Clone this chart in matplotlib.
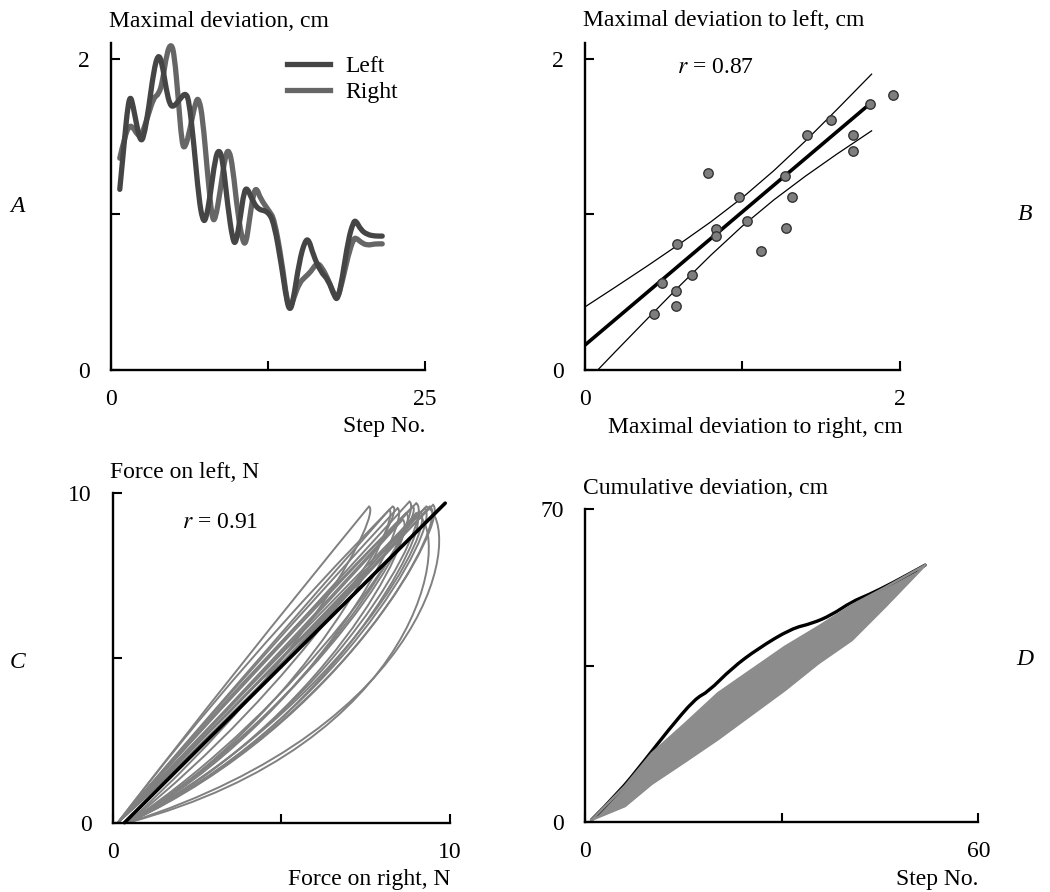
import matplotlib
matplotlib.use('Agg')
import matplotlib.pyplot as plt
from matplotlib.path import Path
from matplotlib.patches import PathPatch
from matplotlib.lines import Line2D

plt.rcParams['font.family'] = ['Liberation Serif', 'DejaVu Serif']
plt.rcParams['mathtext.fontset'] = 'stix'
FS = 17

# ---- A: maximal deviation per step
a_left_x = [0.7, 1.1, 1.35, 1.55, 1.75, 2.1, 2.35, 2.6, 3.0, 3.4, 3.75, 4.05, 4.4, 4.7, 5.0,
            5.5, 5.9, 6.2, 6.6, 7.0, 7.3, 7.55, 7.9, 8.3, 8.6, 8.9, 9.3, 9.7, 9.95, 10.3,
            10.6, 10.85, 11.2, 11.7, 12.5, 13.0, 13.6, 14.0, 14.25, 14.5, 15.0, 15.45, 15.75,
            16.1, 16.7, 17.3, 17.8, 18.05, 18.4, 18.9, 19.3, 19.5, 19.9, 20.4, 21.0, 21.6]
a_left_y = [1.16, 1.50, 1.70, 1.76, 1.70, 1.55, 1.47, 1.49, 1.68, 1.92, 2.03, 1.98, 1.80,
            1.70, 1.69, 1.74, 1.78, 1.74, 1.45, 1.10, 0.96, 0.96, 1.12, 1.36, 1.42, 1.35,
            1.05, 0.83, 0.81, 0.98, 1.15, 1.17, 1.10, 1.03, 1.02, 0.94, 0.66, 0.44, 0.38,
            0.44, 0.70, 0.83, 0.84, 0.74, 0.63, 0.58, 0.47, 0.45, 0.58, 0.84, 0.95, 0.96,
            0.90, 0.87, 0.86, 0.86]
a_right_x = [0.7, 1.1, 1.45, 1.75, 2.1, 2.4, 2.9, 3.4, 3.8, 4.1, 4.45, 4.8, 5.05, 5.35, 5.65,
             5.9, 6.3, 6.75, 7.0, 7.3, 7.7, 8.05, 8.3, 8.7, 9.1, 9.4, 9.7, 10.1, 10.5, 10.75,
             11.0, 11.35, 11.6, 11.9, 12.6, 13.0, 13.6, 14.0, 14.25, 14.55, 15.0, 15.5, 15.9,
             16.4, 16.8, 17.3, 17.8, 18.05, 18.4, 18.9, 19.3, 19.5, 19.9, 20.4, 21.0, 21.6]
a_right_y = [1.36, 1.50, 1.57, 1.56, 1.51, 1.50, 1.62, 1.75, 1.77, 1.85, 2.04, 2.10, 2.02,
             1.75, 1.45, 1.42, 1.55, 1.73, 1.745, 1.62, 1.25, 0.97, 0.96, 1.15, 1.38, 1.42,
             1.30, 1.00, 0.82, 0.81, 0.95, 1.14, 1.17, 1.10, 1.02, 0.97, 0.70, 0.45, 0.39,
             0.46, 0.56, 0.60, 0.63, 0.69, 0.66, 0.58, 0.48, 0.46, 0.56, 0.74, 0.84, 0.85,
             0.82, 0.80, 0.81, 0.81]

# ---- B: left vs right maximal deviation
b_right = [1.953, 1.810, 1.560, 1.407, 1.704, 1.704, 0.779, 1.270, 0.978, 1.316, 1.031,
           0.830, 0.830, 1.274, 1.115, 0.582, 0.682, 0.491, 0.578, 0.578, 0.440]
b_left = [1.765, 1.711, 1.608, 1.512, 1.512, 1.405, 1.262, 1.245, 1.112, 1.112, 0.958,
          0.903, 0.860, 0.909, 0.766, 0.806, 0.610, 0.556, 0.507, 0.411, 0.357]
b_fit_x = [0.0, 1.81]
b_fit_y = [0.16, 1.71]
b_band_x = [0.0, 0.2, 0.4, 0.6, 0.8, 1.0, 1.2, 1.4, 1.6, 1.82]
b_band_hi = [0.405, 0.537, 0.671, 0.809, 0.952, 1.107, 1.281, 1.471, 1.673, 1.900]
b_band_lo = [-0.085, 0.125, 0.333, 0.539, 0.738, 0.925, 1.093, 1.245, 1.387, 1.536]

# ---- C: force loops (up-branch control, peak, down-branch controls)
c_peak_x = [7.6, 8.2, 8.45, 8.8, 9.0, 9.25, 9.5, 8.6, 9.0, 8.9, 9.3, 9.0, 9.1, 8.7, 9.4, 8.3]
c_peak_y = [9.6, 9.5, 9.55, 9.75, 9.7, 9.55, 9.65, 9.2, 9.3, 9.6, 9.6, 9.4, 9.45, 9.4, 9.6, 9.6]
c_up_cx = [3.6, 3.9, 4.0, 4.3, 4.4, 4.7, 4.8, 4.5, 4.6, 4.2, 4.8, 4.7, 4.5, 4.1, 4.9, 3.8]
c_up_cy = [4.6, 4.5, 4.6, 4.7, 4.5, 4.6, 4.7, 4.5, 4.4, 4.8, 4.3, 4.2, 4.6, 4.5, 4.5, 4.9]
c_dn1_x = [7.95, 8.6, 8.9, 9.3, 9.6, 9.8, 10.0, 9.1, 9.5, 9.3, 10.4, 10.1, 9.7, 9.2, 10.0, 8.8]
c_dn1_y = [9.4, 9.3, 9.2, 9.4, 9.3, 9.0, 9.2, 8.8, 9.0, 9.3, 9.0, 8.8, 9.1, 9.1, 9.3, 9.5]
c_dn2_x = [6.0, 5.8, 6.0, 6.0, 6.6, 6.5, 6.8, 6.2, 6.4, 5.7, 9.6, 9.2, 6.9, 6.3, 7.2, 5.6]
c_dn2_y = [5.2, 3.3, 3.2, 3.4, 3.3, 3.0, 3.0, 3.0, 2.8, 3.6, 3.0, 2.4, 3.6, 3.8, 3.4, 4.2]
c_fit_x = [0.35, 9.86]
c_fit_y = [0.0, 9.7]

# ---- D: cumulative deviation
d_x = [1.0, 5.1, 9.15, 12.7, 16.8, 18.8, 22.4, 26.4, 31.5, 34.6, 37.6, 40.7, 43.2, 46.8, 51.9]
d_y = [0.4, 6.4, 13.8, 20.5, 27.6, 29.1, 34.4, 38.8, 43.3, 44.4, 46.3, 49.3, 50.8, 53.4, 57.5]
d_band_x = [1.0, 6.1, 10.2, 15.3, 20.3, 25.4, 30.5, 35.6, 40.7, 45.8, 51.9]
d_band_hi = [0.4, 8.0, 15.3, 22.0, 28.8, 34.0, 39.2, 43.7, 48.5, 52.5, 57.5]
d_band_lo = [0.4, 3.5, 8.5, 13.5, 18.5, 24.0, 29.5, 35.5, 40.7, 48.2, 57.5]


def rounded(xs, ys):
    # path through the read points with rounded corners (quadratic pieces)
    verts = [(xs[0], ys[0])]
    codes = [Path.MOVETO]
    for i in range(1, len(xs) - 1):
        verts += [(xs[i], ys[i]), ((xs[i] + xs[i + 1]) / 2, (ys[i] + ys[i + 1]) / 2)]
        codes += [Path.CURVE3, Path.CURVE3]
    verts.append((xs[-1], ys[-1]))
    codes.append(Path.LINETO)
    return Path(verts, codes)


def style(ax, xmax, ymax, ytop):
    ax.spines[['top', 'right']].set_visible(False)
    for s in ('left', 'bottom'):
        ax.spines[s].set_linewidth(1.7)
    ax.set_xlim(0, xmax)
    ax.set_ylim(0, ytop)
    ax.set_xticks([0, xmax / 2, xmax], ['0', '', f'{xmax:g}'])
    ax.set_yticks([0, ymax / 2, ymax], ['0', '', f'{ymax:g}'])
    ax.tick_params(direction='in', length=6.5, width=1.5, labelsize=FS)
    ax.tick_params(axis='x', pad=14)
    ax.tick_params(axis='y', pad=15)


fig = plt.figure(figsize=(10.5, 8.92), dpi=100)
axA = fig.add_axes([0.1057, 0.5852, 0.299, 0.3666])
axB = fig.add_axes([0.5571, 0.5852, 0.300, 0.3666])
axC = fig.add_axes([0.1073, 0.0777, 0.3212, 0.3693])
axD = fig.add_axes([0.5571, 0.0788, 0.3746, 0.3502])

# A
for xs, ys, col in [(a_right_x, a_right_y, '#666666'), (a_left_x, a_left_y, '#454545')]:
    axA.add_patch(PathPatch(rounded(xs, ys), fill=False, edgecolor=col, lw=3.8,
                            capstyle='round', joinstyle='round', clip_on=False))
style(axA, 25, 2, 2.1)
handles = [Line2D([], [], color='#454545', lw=3.8), Line2D([], [], color='#666666', lw=3.8)]
axA.legend(handles, ['Left', 'Right'], loc='upper left', bbox_to_anchor=(0.56, 0.962),
           frameon=False, fontsize=FS, handlelength=1.82, handletextpad=0.64,
           labelspacing=0.2, borderpad=0, borderaxespad=0)

# B
axB.plot(b_band_x, b_band_hi, color='black', lw=0.9)
axB.plot(b_band_x, b_band_lo, color='black', lw=0.9)
axB.plot(b_fit_x, b_fit_y, color='black', lw=2.6, solid_capstyle='butt')
axB.scatter(b_right, b_left, s=46, color='#7e7e7e', edgecolors='#333333', linewidths=1.0,
            zorder=3, clip_on=False)
style(axB, 2, 2, 2.1)
axB.text(0.584, 1.908, r'$r$ = 0.87', fontsize=FS, va='baseline')

# C
for i in range(len(c_peak_x)):
    verts = [(0.15, 0.0), (c_up_cx[i], c_up_cy[i]), (c_peak_x[i], c_peak_y[i]),
             (c_dn1_x[i], c_dn1_y[i]), (c_dn2_x[i], c_dn2_y[i]), (0.45, 0.0)]
    codes = [Path.MOVETO, Path.CURVE3, Path.CURVE3, Path.CURVE4, Path.CURVE4, Path.CURVE4]
    axC.add_patch(PathPatch(Path(verts, codes), fill=False, edgecolor='#808080', lw=1.4))
axC.plot(c_fit_x, c_fit_y, color='black', lw=2.6, solid_capstyle='round', clip_on=False)
style(axC, 10, 10, 10)
axC.text(2.05, 8.94, r'$r$ = 0.91', fontsize=FS, va='baseline')

# D
axD.fill_between(d_band_x, d_band_lo, d_band_hi, color='#8c8c8c', lw=0)
axD.plot(d_band_x, d_band_hi, color='#8c8c8c', lw=1.8, solid_joinstyle='round')
axD.plot(d_band_x, d_band_lo, color='#8c8c8c', lw=1.8, solid_joinstyle='round')
axD.add_patch(PathPatch(rounded(d_x, d_y), fill=False, edgecolor='black', lw=2.4,
                        capstyle='round', joinstyle='round'))
style(axD, 60, 70, 70)

# titles, axis labels, panel letters
fig.text(0.1038, 0.9697, 'Maximal deviation, cm', fontsize=FS, va='baseline')
fig.text(0.5552, 0.9709, 'Maximal deviation to left, cm', fontsize=FS, va='baseline')
fig.text(0.1048, 0.4641, 'Force on left, N', fontsize=FS, va='baseline')
fig.text(0.5552, 0.4462, 'Cumulative deviation, cm', fontsize=FS, va='baseline')
fig.text(0.4048, 0.5157, 'Step No.', fontsize=FS, ha='right', va='baseline')
fig.text(0.8600, 0.5146, 'Maximal deviation to right, cm', fontsize=FS, ha='right', va='baseline')
fig.text(0.4286, 0.0080, 'Force on right, N', fontsize=FS, ha='right', va='baseline')
fig.text(0.9314, 0.0078, 'Step No.', fontsize=FS, ha='right', va='baseline')
for lab, x, y in [('A', 0.0171, 0.768), ('B', 0.9762, 0.760),
                  ('C', 0.0171, 0.2578), ('D', 0.9762, 0.2601)]:
    fig.text(x, y, lab, fontsize=FS, style='italic', ha='center', va='center')

fig.savefig('out.png', dpi=100, facecolor='white')
